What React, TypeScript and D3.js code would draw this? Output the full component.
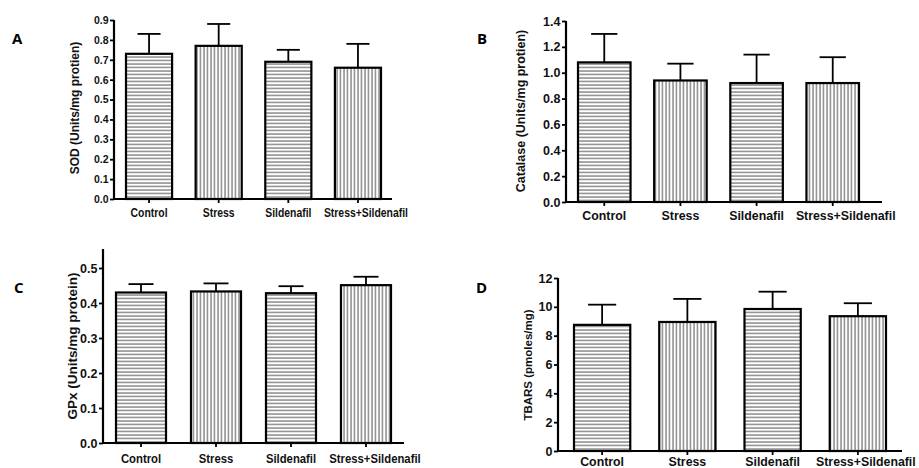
import React, { useEffect, useRef } from "react";
import * as d3 from "d3";

// groups on the x axis
const categories = ["Control", "Stress", "Sildenafil", "Stress+Sildenafil"];
// bar patterns: h = horizontal lines, v = vertical lines
const hatches = ["h", "v", "h", "v"];

// A - SOD
const sodMean = [0.73, 0.77, 0.69, 0.66];
const sodSem = [0.1, 0.11, 0.06, 0.12];
const sodTicks = [0, 0.1, 0.2, 0.3, 0.4, 0.5, 0.6, 0.7, 0.8, 0.9];
const sodTickLabels = ["0.0", "0.1", "0.2", "0.3", "0.4", "0.5", "0.6", "0.7", "0.8", "0.9"];

// B - Catalase
const catMean = [1.08, 0.94, 0.92, 0.92];
const catSem = [0.22, 0.13, 0.22, 0.2];
const catTicks = [0, 0.2, 0.4, 0.6, 0.8, 1.0, 1.2, 1.4];
const catTickLabels = ["0.0", "0.2", "0.4", "0.6", "0.8", "1.0", "1.2", "1.4"];

// C - GPx
const gpxMean = [0.43, 0.433, 0.428, 0.451];
const gpxSem = [0.024, 0.023, 0.02, 0.024];
const gpxTicks = [0, 0.1, 0.2, 0.3, 0.4, 0.5];
const gpxTickLabels = ["0.0", "0.1", "0.2", "0.3", "0.4", "0.5"];

// D - TBARS
const tbarsMean = [8.75, 8.95, 9.85, 9.35];
const tbarsSem = [1.4, 1.6, 1.2, 0.9];
const tbarsTicks = [0, 2, 4, 6, 8, 10, 12];
const tbarsTickLabels = ["0", "2", "4", "6", "8", "10", "12"];

const FONT = "'Liberation Sans', Arial, sans-serif";

const panels = [
  {
    letter: "A", title: "SOD (Units/mg protien)",
    means: sodMean, sems: sodSem, ticks: sodTicks, tickLabels: sodTickLabels,
    x0: 114, x1: 392, bandL: 126, bandR: 381, pad: 0.338,
    top: 20, bottom: 199, axisTop: 20,
    letterX: 12, letterY: 44, titleX: 79, titleY: 108, titleFont: 12,
    tickFont: 10.5, catFont: 13, catScale: 0.8, catY: 217, lastShift: 8,
  },
  {
    letter: "B", title: "Catalase (Units/mg protien)",
    means: catMean, sems: catSem, ticks: catTicks, tickLabels: catTickLabels,
    x0: 566, x1: 882, bandL: 578, bandR: 859, pad: 0.31,
    top: 21, bottom: 202, axisTop: 21,
    letterX: 477, letterY: 44, titleX: 525, titleY: 111, titleFont: 12.5,
    tickFont: 12.5, catFont: 13, catScale: 0.95, catY: 220, lastShift: 13,
  },
  {
    letter: "C", title: "GPx (Units/mg protein)",
    means: gpxMean, sems: gpxSem, ticks: gpxTicks, tickLabels: gpxTickLabels,
    x0: 103, x1: 404, bandL: 116, bandR: 391, pad: 0.333,
    top: 268, bottom: 443, axisTop: 249,
    letterX: 14, letterY: 293, titleX: 77, titleY: 346, titleFont: 13.5,
    tickFont: 12.5, catFont: 13, catScale: 0.87, catY: 463, lastShift: 9,
  },
  {
    letter: "D", title: "TBARS (pmoles/mg)",
    means: tbarsMean, sems: tbarsSem, ticks: tbarsTicks, tickLabels: tbarsTickLabels,
    x0: 558, x1: 902, bandL: 574, bandR: 886, pad: 0.34,
    top: 278, bottom: 451, axisTop: 278,
    letterX: 476, letterY: 293, titleX: 532, titleY: 365, titleFont: 11.5,
    tickFont: 12.5, catFont: 13, catScale: 0.95, catY: 466, lastShift: 8,
  },
];

const App = () => {
  const svgRef = useRef<SVGSVGElement>(null);

  useEffect(() => {
    const svg = d3.select(svgRef.current);
    svg.selectAll("*").remove();

    // hatch patterns
    const defs = svg.append("defs");
    const ph = defs
      .append("pattern")
      .attr("id", "hatch-h")
      .attr("patternUnits", "userSpaceOnUse")
      .attr("width", 10)
      .attr("height", 3.5);
    ph.append("rect").attr("width", 10).attr("height", 3.5).attr("fill", "#fff");
    ph.append("line")
      .attr("x1", 0).attr("x2", 10).attr("y1", 1).attr("y2", 1)
      .attr("stroke", "#6e6e6e").attr("stroke-width", 1.2);
    const pv = defs
      .append("pattern")
      .attr("id", "hatch-v")
      .attr("patternUnits", "userSpaceOnUse")
      .attr("width", 3.5)
      .attr("height", 10);
    pv.append("rect").attr("width", 3.5).attr("height", 10).attr("fill", "#fff");
    pv.append("line")
      .attr("x1", 1).attr("x2", 1).attr("y1", 0).attr("y2", 10)
      .attr("stroke", "#6e6e6e").attr("stroke-width", 1.2);

    panels.forEach((p) => {
      const g = svg.append("g");
      const maxTick = p.ticks[p.ticks.length - 1];

      const x = d3
        .scaleBand()
        .domain(categories)
        .range([p.bandL, p.bandR])
        .paddingInner(p.pad)
        .paddingOuter(0);
      const y = d3.scaleLinear().domain([0, maxTick]).range([p.bottom, p.top]);

      // bars
      g.selectAll(".bar")
        .data(categories)
        .join("rect")
        .attr("x", (d) => x(d)!)
        .attr("y", (d, i) => y(p.means[i]))
        .attr("width", x.bandwidth())
        .attr("height", (d, i) => p.bottom - y(p.means[i]))
        .attr("fill", (d, i) => `url(#hatch-${hatches[i]})`)
        .attr("stroke", "#000")
        .attr("stroke-width", 2.2);

      // error bars (upper only)
      const cap = x.bandwidth() / 4;
      categories.forEach((c, i) => {
        const cx = x(c)! + x.bandwidth() / 2;
        const top = y(p.means[i] + p.sems[i]);
        g.append("line")
          .attr("x1", cx).attr("x2", cx)
          .attr("y1", y(p.means[i])).attr("y2", top)
          .attr("stroke", "#000").attr("stroke-width", 1.8);
        g.append("line")
          .attr("x1", cx - cap).attr("x2", cx + cap)
          .attr("y1", top).attr("y2", top)
          .attr("stroke", "#000").attr("stroke-width", 1.8);
      });

      // y axis
      const yAxis = d3
        .axisLeft(y)
        .tickValues(p.ticks)
        .tickFormat((d, i) => p.tickLabels[i])
        .tickSize(4)
        .tickSizeOuter(0)
        .tickPadding(1.5);
      const ya = g.append("g").attr("transform", `translate(${p.x0},0)`).call(yAxis);
      ya.select(".domain").remove();
      ya.selectAll("line").attr("stroke", "#000").attr("stroke-width", 1.8);
      ya.selectAll("text")
        .attr("font-family", FONT)
        .attr("font-weight", "bold")
        .attr("font-size", p.tickFont)
        .attr("fill", "#111");

      // x axis ticks at bar centres
      const xAxis = d3.axisBottom(x).tickSize(4).tickSizeOuter(0).tickFormat(() => "");
      const xa = g.append("g").attr("transform", `translate(0,${p.bottom})`).call(xAxis);
      xa.select(".domain").remove();
      xa.selectAll("line").attr("stroke", "#000").attr("stroke-width", 1.8);

      // axis lines
      g.append("line")
        .attr("x1", p.x0).attr("x2", p.x0)
        .attr("y1", p.axisTop).attr("y2", p.bottom + 1)
        .attr("stroke", "#000").attr("stroke-width", 2.2);
      g.append("line")
        .attr("x1", p.x0 - 1).attr("x2", p.x1)
        .attr("y1", p.bottom).attr("y2", p.bottom)
        .attr("stroke", "#000").attr("stroke-width", 2.2);

      // category labels (last one nudged right, as in the original)
      g.selectAll(".cat")
        .data(categories)
        .join("text")
        .attr("transform", (d, i) => {
          const cx = x(d)! + x.bandwidth() / 2 + (i === categories.length - 1 ? p.lastShift : 0);
          return `translate(${cx},${p.catY}) scale(${p.catScale},1)`;
        })
        .attr("text-anchor", "middle")
        .attr("font-family", FONT)
        .attr("font-weight", "bold")
        .attr("font-size", p.catFont)
        .attr("fill", "#111")
        .text((d) => d);

      // y title
      g.append("text")
        .attr("transform", `translate(${p.titleX},${p.titleY}) rotate(-90)`)
        .attr("text-anchor", "middle")
        .attr("font-family", FONT)
        .attr("font-weight", "bold")
        .attr("font-size", p.titleFont)
        .attr("fill", "#111")
        .text(p.title);

      // panel letter
      g.append("text")
        .attr("x", p.letterX)
        .attr("y", p.letterY)
        .attr("font-family", "'Open Sans', 'Liberation Sans', sans-serif")
        .attr("font-weight", "bold")
        .attr("font-size", 15)
        .attr("fill", "#000")
        .text(p.letter);
    });
  }, []);

  return (
    <div style={{ position: "absolute", left: 0, top: 0 }}>
      <svg ref={svgRef} width={919} height={468} style={{ display: "block", background: "#fff" }}></svg>
    </div>
  );
};

export default App;
